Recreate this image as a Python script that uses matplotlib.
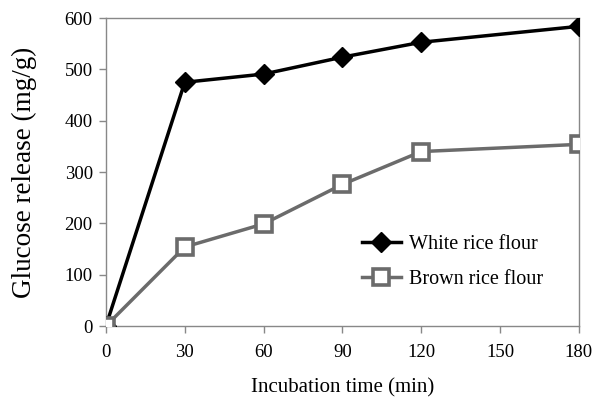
import matplotlib.pyplot as plt

# data
time_min = [0, 30, 60, 90, 120, 180]
white_rice = [0, 475, 491, 524, 553, 584]
brown_rice = [0, 154, 199, 276, 340, 354]
x_ticks = [0, 30, 60, 90, 120, 150, 180]
y_ticks = [0, 100, 200, 300, 400, 500, 600]

plt.rcParams['font.family'] = ['Liberation Serif', 'DejaVu Serif']

fig = plt.figure(figsize=(5.95, 4.03), dpi=100)
ax = fig.add_axes([0.178, 0.191, 0.795, 0.764])

ax.plot(time_min, white_rice, color='black', linewidth=2.5,
        marker='D', markersize=10.5, markerfacecolor='black',
        markeredgecolor='black', label='White rice flour', zorder=3)
ax.plot(time_min, brown_rice, color='#6b6b6b', linewidth=2.5,
        marker='s', markersize=12, markerfacecolor='white',
        markeredgecolor='#6b6b6b', markeredgewidth=2.6,
        label='Brown rice flour', zorder=3)

ax.set_xlim(0, 180)
ax.set_ylim(0, 600)
ax.set_xticks(x_ticks)
ax.set_yticks(y_ticks)
ax.tick_params(axis='both', direction='out', length=5, width=1,
               color='#888888', labelsize=13.5)
ax.tick_params(axis='x', pad=8)
ax.tick_params(axis='y', pad=4.5)

for s in ax.spines.values():
    s.set_color('#888888')
    s.set_linewidth(1)
    s.set_zorder(1)

ax.set_xlabel('Incubation time (min)', fontsize=15, labelpad=12)
ax.set_ylabel('Glucose release (mg/g)', fontsize=19.5, labelpad=20)

leg = ax.legend(loc='center left', bbox_to_anchor=(0.525, 0.207),
                frameon=False, fontsize=14.5, handlelength=1.9,
                handletextpad=0.4, labelspacing=0.8, borderaxespad=0)

plt.savefig('out.png', dpi=100)
